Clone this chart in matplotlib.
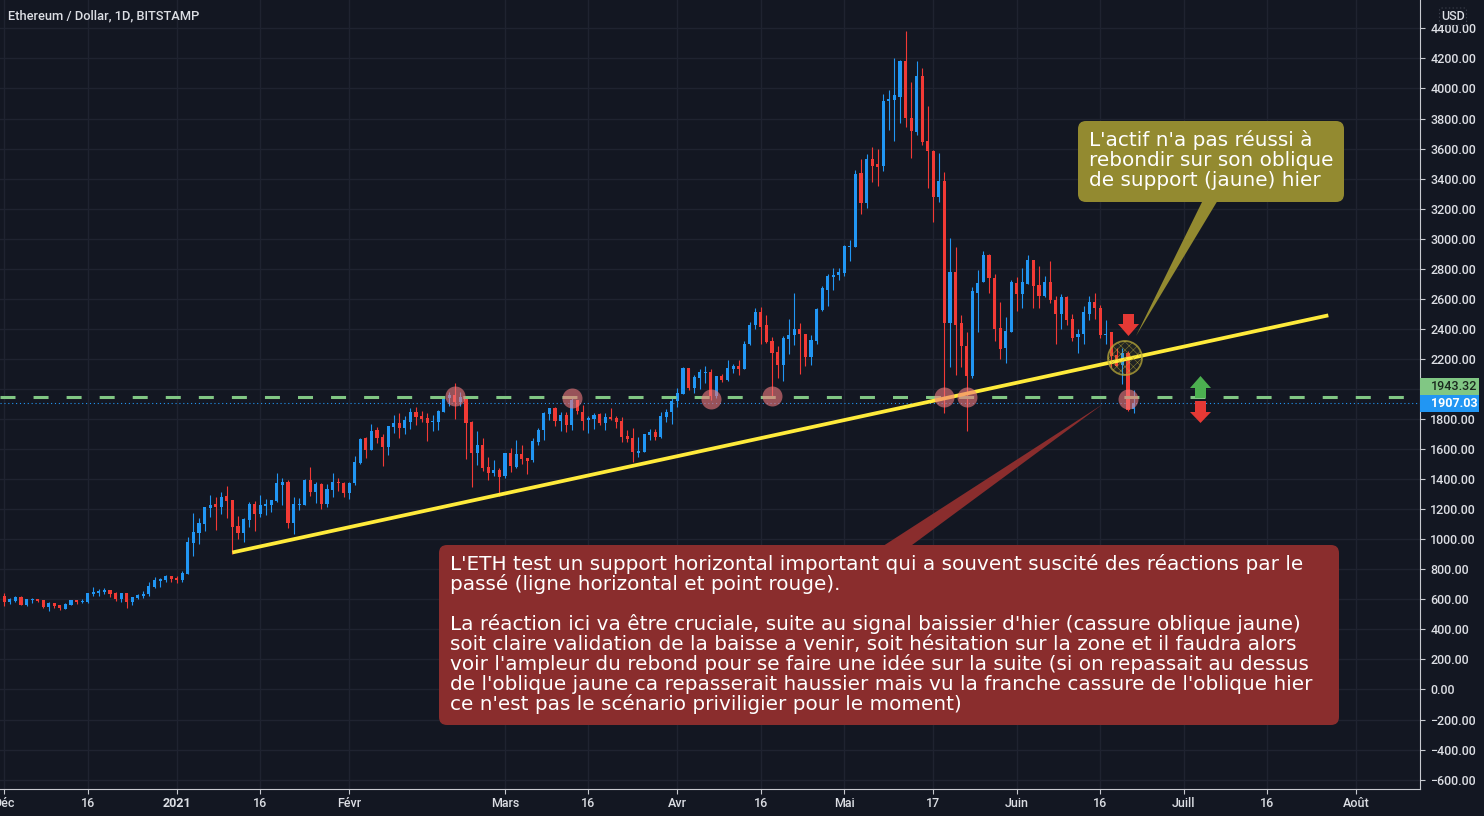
from matplotlib import pyplot as plt
from matplotlib.patches import FancyBboxPatch, Polygon, Circle, Rectangle
from matplotlib.transforms import Affine2D
import matplotlib.dates as mdates
import numpy as np
import pandas as pd

W, H = 1484, 816

first_day = "2020-11-30"

open_ = [573,
    622, 580, 587, 616, 562, 593, 600, 593, 551, 576,
    560, 536, 562, 593, 582, 582, 636, 642, 647, 662,
    642, 602, 640, 582, 607, 622, 636, 682, 722, 729,
    756, 742, 729, 769, 976, 1042, 1102, 1209, 1236, 1216,
    1289, 1262, 1089, 1042, 1129, 1236, 1169, 1222, 1229, 1256,
    1362, 1382, 1109, 1229, 1229, 1396, 1316, 1369, 1236, 1329,
    1382, 1376, 1309, 1376, 1507, 1673, 1593, 1729, 1682, 1616,
    1749, 1776, 1742, 1782, 1849, 1822, 1809, 1778, 1782, 1849,
    1940, 1962, 1913, 1942, 1782, 1576, 1629, 1482, 1442, 1462,
    1422, 1576, 1482, 1569, 1542, 1529, 1649, 1729, 1836, 1876,
    1789, 1829, 1762, 1929, 1849, 1796, 1802, 1836, 1776, 1816,
    1809, 1789, 1689, 1676, 1576, 1582, 1696, 1716, 1680, 1816,
    1849, 1922, 1969, 2142, 2009, 2074, 2107, 2111, 1951, 2087,
    2060, 2133, 2153, 2133, 2297, 2428, 2514, 2428, 2317, 2244,
    2159, 2330, 2356, 2396, 2369, 2212, 2317, 2527, 2662, 2742,
    2756, 2771, 2942, 2942, 3436, 3236, 3529, 3496, 3482, 3916,
    3922, 3942, 4182, 3802, 3709, 4082, 3649, 3582, 3276, 3382,
    2442, 2776, 2436, 2289, 2089, 2642, 2709, 2889, 2736, 2409,
    2276, 2376, 2702, 2629, 2696, 2856, 2689, 2622, 2709, 2589,
    2502, 2609, 2469, 2349, 2369, 2502, 2582, 2542, 2356, 2376,
    2229, 2162, 2242, 1869]
high = [622,
    640, 611, 620, 622, 602, 609, 600, 598, 582, 576,
    560, 573, 596, 593, 600, 640, 682, 669, 676, 662,
    649, 640, 640, 613, 636, 656, 716, 749, 742, 762,
    756, 756, 789, 1016, 1176, 1142, 1216, 1296, 1282, 1316,
    1356, 1262, 1156, 1142, 1249, 1256, 1296, 1269, 1262, 1442,
    1409, 1396, 1282, 1276, 1402, 1482, 1382, 1376, 1369, 1442,
    1409, 1382, 1382, 1556, 1671, 1680, 1767, 1747, 1702, 1756,
    1829, 1842, 1822, 1876, 1882, 1856, 1842, 1829, 1862, 1951,
    1982, 2040, 1982, 1942, 1787, 1722, 1676, 1549, 1529, 1476,
    1576, 1609, 1662, 1629, 1542, 1676, 1742, 1849, 1876, 1882,
    1849, 1849, 1940, 1929, 1896, 1822, 1842, 1842, 1842, 1876,
    1822, 1816, 1729, 1742, 1682, 1702, 1736, 1736, 1849, 1869,
    1942, 2009, 2149, 2142, 2096, 2133, 2153, 2133, 2087, 2100,
    2196, 2166, 2196, 2317, 2448, 2540, 2547, 2494, 2343, 2284,
    2350, 2468, 2639, 2442, 2369, 2356, 2540, 2682, 2762, 2802,
    2802, 2956, 2989, 3456, 3529, 3562, 3609, 3596, 3962, 3989,
    4202, 4189, 4382, 4042, 4182, 4136, 3882, 3589, 3569, 3442,
    3002, 2942, 2489, 2382, 2676, 2789, 2916, 2896, 2762, 2576,
    2476, 2722, 2742, 2802, 2889, 2856, 2816, 2749, 2849, 2622,
    2629, 2616, 2496, 2396, 2549, 2622, 2642, 2556, 2462, 2376,
    2276, 2276, 2256, 1996]
low = [573,
    556, 571, 582, 562, 558, 578, 582, 544, 522, 544,
    529, 536, 562, 569, 576, 578, 622, 622, 638, 616,
    589, 582, 542, 562, 602, 609, 622, 676, 682, 716,
    716, 709, 716, 769, 889, 969, 1056, 1149, 1062, 1169,
    1142, 902, 1002, 982, 1082, 1056, 1149, 1162, 1182, 1249,
    1229, 1076, 1036, 1196, 1229, 1289, 1242, 1202, 1216, 1282,
    1322, 1282, 1269, 1362, 1502, 1540, 1591, 1640, 1489, 1562,
    1709, 1676, 1702, 1736, 1762, 1782, 1656, 1722, 1729, 1849,
    1889, 1802, 1889, 1536, 1349, 1496, 1456, 1396, 1422, 1289,
    1409, 1449, 1476, 1502, 1436, 1516, 1629, 1662, 1796, 1756,
    1722, 1716, 1729, 1836, 1729, 1709, 1736, 1762, 1729, 1796,
    1742, 1649, 1649, 1516, 1549, 1582, 1662, 1662, 1676, 1782,
    1769, 1882, 1969, 1996, 1976, 2001, 2041, 1929, 1940, 2047,
    2054, 2107, 2093, 2133, 2290, 2396, 2297, 2304, 1940, 2074,
    2054, 2231, 2290, 2100, 2153, 2159, 2297, 2520, 2553, 2662,
    2722, 2751, 2849, 2942, 3162, 3202, 3376, 3349, 3449, 3722,
    3649, 3769, 3742, 3536, 3689, 3622, 3336, 3109, 3242, 1842,
    2149, 2096, 2149, 1722, 2076, 2376, 2709, 2636, 2322, 2202,
    2176, 2376, 2522, 2542, 2696, 2542, 2542, 2609, 2569, 2296,
    2402, 2429, 2316, 2242, 2302, 2456, 2469, 2336, 2296, 2144,
    2156, 2036, 1856, 1842]
close = [622,
    582, 602, 613, 562, 602, 600, 589, 551, 576, 558,
    542, 569, 596, 582, 591, 640, 649, 656, 662, 636,
    602, 640, 582, 613, 629, 636, 689, 729, 736, 756,
    736, 729, 776, 982, 1049, 1109, 1216, 1229, 1216, 1282,
    1256, 1082, 1042, 1136, 1236, 1169, 1229, 1236, 1262, 1376,
    1382, 1109, 1236, 1236, 1396, 1316, 1369, 1236, 1336, 1382,
    1376, 1309, 1376, 1516, 1669, 1596, 1722, 1676, 1616, 1756,
    1776, 1740, 1796, 1849, 1816, 1800, 1776, 1782, 1856, 1951,
    1960, 1913, 1947, 1776, 1576, 1629, 1476, 1442, 1462, 1416,
    1576, 1489, 1569, 1536, 1522, 1656, 1729, 1842, 1876, 1789,
    1829, 1762, 1929, 1851, 1789, 1809, 1829, 1776, 1816, 1802,
    1782, 1682, 1669, 1582, 1589, 1702, 1716, 1682, 1822, 1849,
    1922, 1976, 2142, 2009, 2082, 2113, 2111, 1951, 2087, 2060,
    2139, 2153, 2133, 2297, 2428, 2514, 2415, 2310, 2238, 2159,
    2336, 2356, 2402, 2363, 2212, 2323, 2534, 2669, 2749, 2756,
    2776, 2949, 2949, 3429, 3236, 3529, 3482, 3476, 3916, 3929,
    3956, 4182, 3802, 3716, 4082, 3642, 3582, 3276, 3382, 2442,
    2776, 2429, 2289, 2089, 2649, 2702, 2889, 2736, 2402, 2269,
    2389, 2709, 2629, 2709, 2856, 2682, 2622, 2709, 2589, 2502,
    2609, 2462, 2342, 2369, 2509, 2582, 2536, 2356, 2369, 2222,
    2156, 2242, 1862, 1907.03]

support_level = 1943.32
trend_days = ["2021-01-11", "2021-07-27"]
trend_prices = [912, 2490]
touch_days = ["2021-02-20", "2021-03-13", "2021-04-07", "2021-04-18",
              "2021-05-19", "2021-05-23", "2021-06-21"]
touch_prices = [1953, 1940, 1933, 1953, 1947, 1947, 1933]

x_tick_days = ["2020-12-01", "2020-12-16", "2021-01-01", "2021-01-16", "2021-02-01",
               "2021-03-01", "2021-03-16", "2021-04-01", "2021-04-16",
               "2021-05-01", "2021-05-17", "2021-06-01", "2021-06-16", "2021-07-01",
               "2021-07-16", "2021-08-01"]
x_tick_labels = ["Déc", "16", "2021", "16", "Févr", "Mars", "16", "Avr", "16",
                 "Mai", "17", "Juin", "16", "Juill", "16", "Août"]
y_ticks = np.arange(-600, 4401, 200)

note_top = ["L'actif n'a pas réussi à",
            "rebondir sur son oblique",
            "de support (jaune) hier"]
note_bottom = ["L'ETH test un support horizontal important qui a souvent suscité des réactions par le",
               "passé (ligne horizontal et point rouge).",
               "",
               "La réaction ici va être cruciale, suite au signal baissier d'hier (cassure oblique jaune)",
               "soit claire validation de la baisse a venir, soit hésitation sur la zone et il faudra alors",
               "voir l'ampleur du rebond pour se faire une idée sur la suite (si on repassait au dessus",
               "de l'oblique jaune ca repasserait haussier mais vu la franche cassure de l'oblique hier",
               "ce n'est pas le scénario priviligier pour le moment)"]

BG = "#131722"
GRID = "#1f2330"
UP = "#2196f3"
DOWN = "#f23a35"
AXIS = "#c8cad0"
TICK_TEXT = "#dcdee4"
TICK_FONT = "Roboto"

plt.rcParams["lines.scale_dashes"] = False
plt.rcParams["font.family"] = ["DejaVu Sans"]
plt.rcParams["hatch.linewidth"] = 0.35

fig = plt.figure(figsize=(W / 100, H / 100), dpi=100, facecolor=BG)
ax = fig.add_axes([0, (H - 788.5) / H, 1420 / W, 788.5 / H], facecolor=BG)
# pixels from the top left, for the drawn notes
px = Affine2D().scale(1, -1).translate(0, H)

days = mdates.date2num(pd.date_range(first_day, periods=len(close)))
o, h, l, c = map(np.array, (open_, high, low, close))
colors = np.where(c >= o, UP, DOWN)

ax.vlines(days, l, h, colors=colors, linewidth=0.8, zorder=3)
ax.bar(days, np.maximum(np.abs(c - o), 7), bottom=np.minimum(o, c), width=0.56,
       color=colors, linewidth=0, zorder=3)

ax.axhline(c[-1], color=UP, linewidth=0.8, linestyle=(0, (0.8, 2.0)), zorder=2)
ax.axhline(support_level, color="#81c784", linewidth=2.2, linestyle=(0, (10.8, 13.0)), zorder=4)
ax.plot(mdates.datestr2num(trend_days), trend_prices, color="#ffeb3b", linewidth=2.7,
        solid_capstyle="butt", zorder=5)
ax.scatter(mdates.datestr2num(touch_days), touch_prices, s=207, color="#f27a7e", alpha=0.6,
           linewidth=0, zorder=6)

d0 = mdates.datestr2num("2020-12-01")
ax.set_xlim(d0 - 0.773, d0 + 254.48)
ax.set_ylim(-658.9, 4588.7)
ax.set_xticks(mdates.datestr2num(x_tick_days))
ax.set_xticklabels(x_tick_labels, family=TICK_FONT, fontsize=9, fontweight="medium", color=TICK_TEXT)
ax.get_xticklabels()[2].set_fontweight("bold")
ax.yaxis.tick_right()
ax.set_yticks(y_ticks)
# 2000.00 sits behind the two price tags, as on the source chart
ax.set_yticklabels(["" if v == 2000 else f"{v:.2f}".replace("-", "\u2212") for v in y_ticks],
                   family=TICK_FONT, fontsize=9, fontweight="medium", color=TICK_TEXT)
for label in ax.get_yticklabels():
    label.set_transform(label.get_transform() + Affine2D().translate(0, 1))
ax.tick_params(axis="both", length=3.6, width=0.8, color=AXIS)
ax.tick_params(axis="y", pad=3.8)
ax.tick_params(axis="x", pad=2.2)
ax.grid(True, color=GRID, linewidth=1.0, zorder=0)
ax.set_axisbelow(True)
for side in ("top", "left"):
    ax.spines[side].set_visible(False)
for side in ("right", "bottom"):
    ax.spines[side].set_color(AXIS)
    ax.spines[side].set_linewidth(0.8)

# yellow ring on the broken oblique
fig.add_artist(Circle((1125, 358), 17, transform=px, facecolor=(1, 0.92, 0.23, 0.06),
                      edgecolor=(0.72, 0.66, 0.22, 0.75), linewidth=1.3, hatch="xxxx", zorder=7))

# arrows
red_arrow = "#e53935"
green_arrow = "#4caf50"
for pts, col in (
    ([(1123, 314), (1134, 314), (1134, 324), (1139, 324), (1128.5, 336), (1118, 324), (1123, 324)], red_arrow),
    ([(1195, 398), (1206, 398), (1206, 388), (1211, 388), (1200.5, 376), (1190, 388), (1195, 388)], green_arrow),
    ([(1195, 401), (1206, 401), (1206, 412), (1211, 412), (1200.5, 423), (1190, 412), (1195, 412)], red_arrow),
):
    fig.add_artist(Polygon(pts, closed=True, transform=px, facecolor=col, edgecolor="none", zorder=8))

# callouts
olive = "#938a30"
brick = "#8a2d2d"
fig.add_artist(Polygon([(1203, 200), (1218, 200), (1136, 336)], closed=True, transform=px,
                       facecolor=olive, edgecolor="none", zorder=9))
fig.add_artist(FancyBboxPatch((1084, 127), 254, 69, boxstyle="round,pad=6,rounding_size=8", transform=px,
                              facecolor=olive, edgecolor="none", zorder=9))
fig.add_artist(Polygon([(880, 548), (908, 548), (1103, 404)], closed=True, transform=px,
                       facecolor=brick, edgecolor="none", zorder=9))
fig.add_artist(FancyBboxPatch((445, 551), 888, 168, boxstyle="round,pad=6,rounding_size=8", transform=px,
                              facecolor=brick, edgecolor="none", zorder=9))
for i, line in enumerate(note_top):
    fig.text(1089, 140 + 20 * i, line, transform=px, color="white", fontsize=14.4,
             va="center", ha="left", zorder=10)
for i, line in enumerate(note_bottom):
    fig.text(450, 564 + 20 * i, line, transform=px, color="white", fontsize=14.4,
             va="center", ha="left", zorder=10)

# price labels on the scale
fig.add_artist(Rectangle((1420, 378), 59, 17.3, transform=px, facecolor="#81c784", edgecolor="none", zorder=7))
fig.add_artist(Rectangle((1420, 395.3), 59, 16.7, transform=px, facecolor=UP, edgecolor="none", zorder=7))
fig.text(1431, 386.6, f"{support_level:.2f}", transform=px, family=TICK_FONT, fontsize=9,
         fontweight="medium", color="#1b2a1f", va="center", zorder=8)
fig.text(1431, 403.6, f"{close[-1]:.2f}", transform=px, family=TICK_FONT, fontsize=9,
         color="white", fontweight="bold", va="center", zorder=8)

# currency tag and title
fig.add_artist(FancyBboxPatch((1439.5, 8), 27, 17, boxstyle="round,pad=0,rounding_size=2", transform=px,
                              facecolor=BG, edgecolor="#3a3e4a", linewidth=0.8, linestyle=":", zorder=7))
fig.text(1453, 16.5, "USD", transform=px, family=TICK_FONT, fontsize=9, fontweight="medium", color=TICK_TEXT,
         va="center", ha="center", zorder=8)
fig.text(8, 16, "Ethereum / Dollar, 1D, BITSTAMP", transform=px, family=TICK_FONT, fontsize=9.3,
         fontweight="medium", color=TICK_TEXT, va="center", ha="left", zorder=8)

fig.savefig("out.png", dpi=100, facecolor=BG)
